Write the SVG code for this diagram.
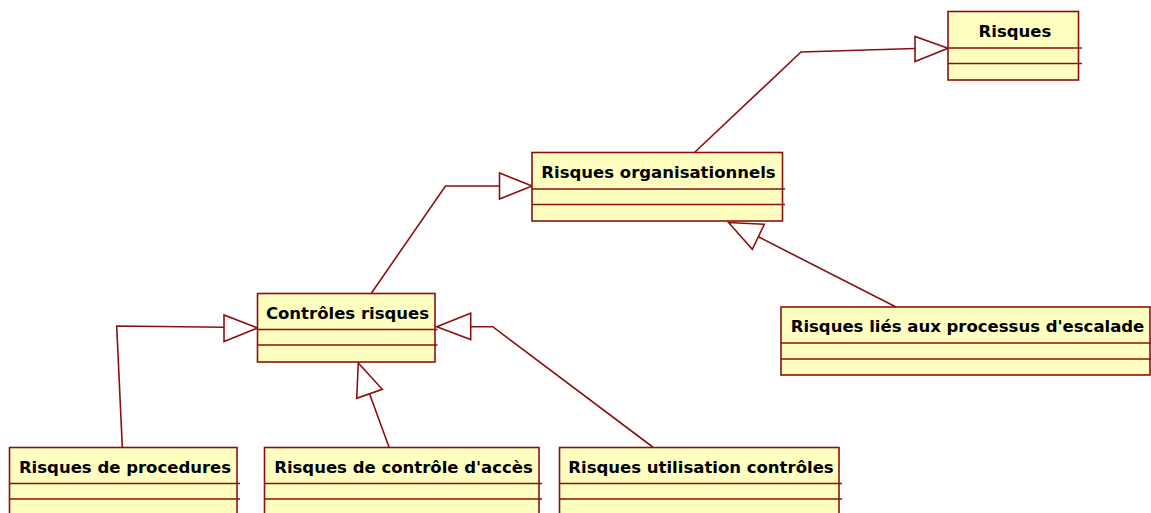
<svg xmlns="http://www.w3.org/2000/svg" width="1151" height="513" viewBox="0 0 1151 513">
  <style>
    .box { fill: #ffffc0; stroke: #8b0f0f; stroke-width: 1.6; }
    .sep { stroke: #8b0f0f; stroke-width: 1.6; fill: none; }
    .name { font-family: "DejaVu Sans", Verdana, sans-serif; font-weight: bold; font-size: 16.5px; fill: #000; text-anchor: middle; }
    .edge { fill: none; stroke: #8b0f0f; stroke-width: 1.6; }
    .head { fill: #ffffff; stroke: #8b0f0f; stroke-width: 1.6; stroke-linejoin: miter; }
  </style>
  <rect width="1151" height="513" fill="#ffffff"/>

  <!-- generalisation connectors with hollow triangle heads -->
  <g id="connectors">
    <!-- Risques organisationnels -> Risques -->
    <polyline class="edge" points="695,152 801,52 915,48.5"/>
    <polygon class="head" points="948,48.3 915,36.5 915,61.5"/>
    <!-- Contrôles risques -> Risques organisationnels -->
    <polyline class="edge" points="371.5,293 445.5,186 499.5,186"/>
    <polygon class="head" points="532,186 499.5,173 499.5,199"/>
    <!-- Risques liés aux processus d'escalade -> Risques organisationnels -->
    <polyline class="edge" points="896,307 758.3,236.8"/>
    <polygon class="head" points="728.5,222.5 764.3,224.3 752.3,249.3"/>
    <!-- Risques de procedures -> Contrôles risques -->
    <polyline class="edge" points="122.3,447 116.7,326 224,327.3"/>
    <polygon class="head" points="257.5,328 224,315 224,341.5"/>
    <!-- Risques de contrôle d'accès -> Contrôles risques -->
    <polyline class="edge" points="389,447 369.5,393.8"/>
    <polygon class="head" points="358.3,363 356.7,398.3 382.3,389.3"/>
    <!-- Risques utilisation contrôles -> Contrôles risques -->
    <polyline class="edge" points="652.7,447 492.7,326.7 470.7,326.7"/>
    <polygon class="head" points="436.7,326.7 470.7,313.3 470.7,339.5"/>
  </g>

  <g id="risques">
    <rect class="box" x="948" y="11.5" width="130.5" height="68.5"/>
    <path class="sep" d="M948,48 H1082 M948,63.5 H1082"/>
    <text class="name" x="1015" y="37">Risques</text>
  </g>

  <g id="risques-organisationnels">
    <rect class="box" x="532" y="152.5" width="250.5" height="68.5"/>
    <path class="sep" d="M532,189 H785 M532,204.5 H785"/>
    <text class="name" x="658.5" y="178">Risques organisationnels</text>
  </g>

  <g id="controles-risques">
    <rect class="box" x="257.5" y="293.5" width="177.5" height="68.5"/>
    <path class="sep" d="M257.5,329.5 H437.5 M257.5,345 H437.5"/>
    <text class="name" x="347.5" y="319">Contrôles risques</text>
  </g>

  <g id="risques-escalade">
    <rect class="box" x="781" y="307" width="369" height="68"/>
    <path class="sep" d="M781,343 H1151 M781,359 H1151"/>
    <text class="name" x="967.5" y="332">Risques liés aux processus d'escalade</text>
  </g>

  <g id="risques-procedures">
    <rect class="box" x="9.5" y="447.5" width="227.5" height="69"/>
    <path class="sep" d="M9.5,483.5 H240 M9.5,499 H240"/>
    <text class="name" x="125" y="473">Risques de procedures</text>
  </g>

  <g id="risques-controle-acces">
    <rect class="box" x="264.5" y="447.5" width="274.5" height="69"/>
    <path class="sep" d="M264.5,483.5 H542 M264.5,499 H542"/>
    <text class="name" x="403.5" y="473">Risques de contrôle d'accès</text>
  </g>

  <g id="risques-utilisation-controles">
    <rect class="box" x="559.5" y="447.5" width="279.5" height="69"/>
    <path class="sep" d="M559.5,483.5 H842 M559.5,499 H842"/>
    <text class="name" x="701" y="473">Risques utilisation contrôles</text>
  </g>
</svg>
